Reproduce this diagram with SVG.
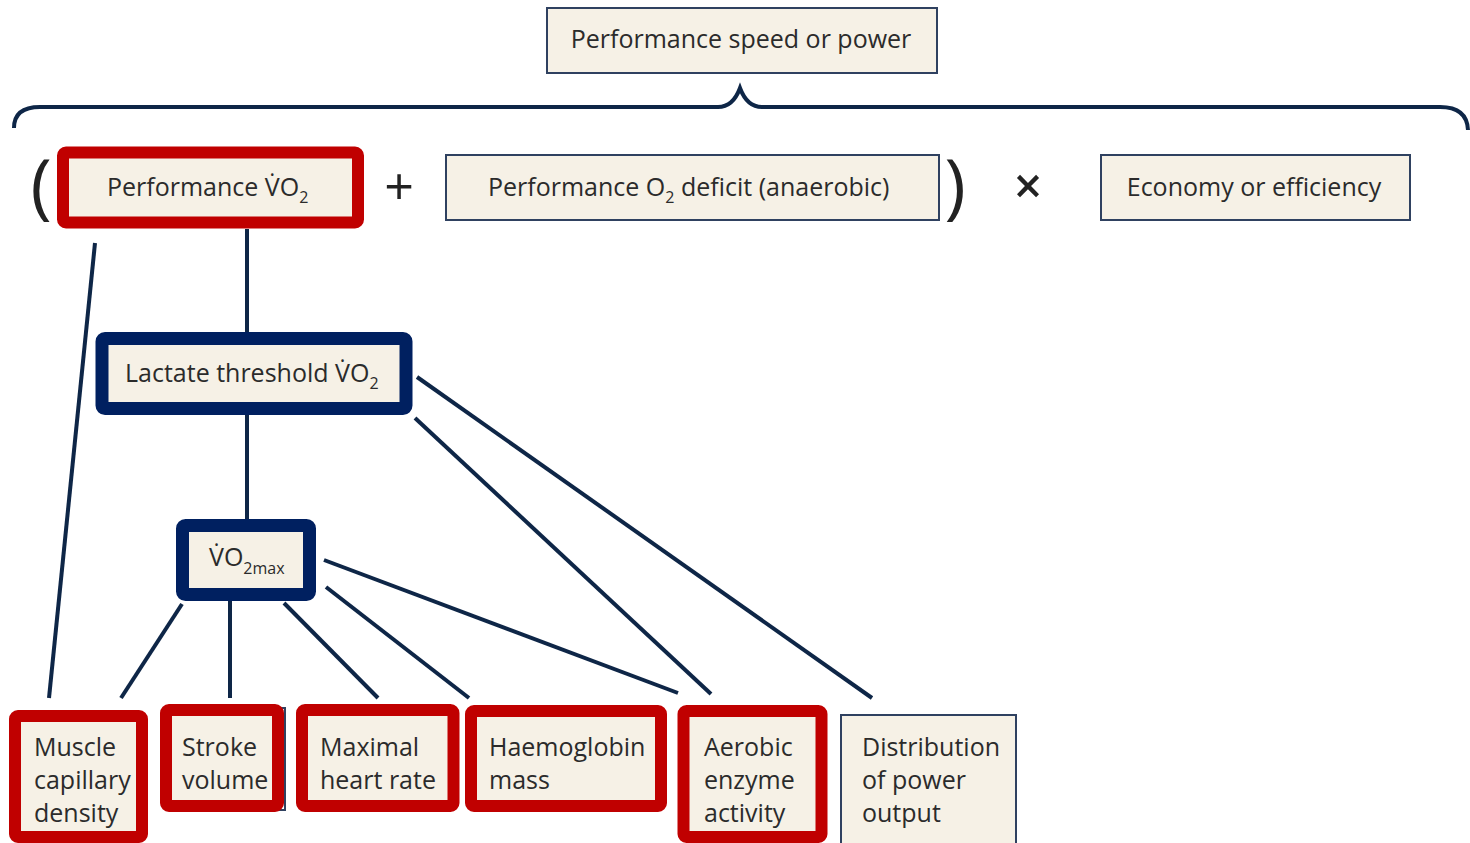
<svg xmlns="http://www.w3.org/2000/svg" width="1470" height="843" viewBox="0 0 1470 843">
<style>
.t{font-family:"Open Sans","Noto Sans","Liberation Sans",sans-serif;font-size:25px;fill:#2b2b2b}
.thin{fill:#f6f1e6;stroke:#2f4160;stroke-width:2}
.red{fill:#f6f1e6;stroke:#c00000;stroke-width:12}
.navy{fill:#f6f1e6;stroke:#002060;stroke-width:13}
.ln{stroke:#0e2647;stroke-width:4;fill:none;stroke-linecap:butt}
.op{font-family:"Open Sans","Liberation Sans",sans-serif;fill:#222222}
</style>
<rect width="1470" height="843" fill="#ffffff"/>
<g id="connectors">
<path class="ln" d="M14,128 Q14,107 40,107 L718,107 Q733,107 740,88 Q747,107 762,107 L1440,107 Q1467,107 1468,130" stroke-width="3"/>
<line class="ln" x1="247" y1="229" x2="247" y2="332"/>
<line class="ln" x1="95" y1="243" x2="49" y2="698"/>
<line class="ln" x1="247" y1="415" x2="247" y2="519"/>
<line class="ln" x1="417" y1="377" x2="872" y2="698"/>
<line class="ln" x1="415" y1="418" x2="711" y2="694"/>
<line class="ln" x1="182" y1="604" x2="121" y2="698"/>
<line class="ln" x1="230" y1="601" x2="230" y2="698"/>
<line class="ln" x1="284" y1="603" x2="378" y2="698"/>
<line class="ln" x1="326" y1="587" x2="469" y2="698"/>
<line class="ln" x1="324" y1="560" x2="678" y2="693"/>
</g>
<g id="n-speed">
<rect class="thin" x="547" y="8" width="390" height="65"/>
<text class="t" x="741" y="48" text-anchor="middle">Performance speed or power</text>
</g>
<g id="n-perf-vo2">
<rect class="red" x="63" y="152.5" width="295" height="70" rx="3"/>
<text class="t" x="107" y="196">Performance V̇O<tspan font-size="16" dy="7">2</tspan></text>
</g>
<g id="operators">
<text class="op" x="41" y="211" font-size="72" font-weight="400" text-anchor="middle">(</text>
<text class="op" x="399" y="205" font-size="52" font-weight="500" text-anchor="middle">+</text>
<text class="op" x="955" y="211" font-size="72" font-weight="400" text-anchor="middle">)</text>
<text class="op" x="1028" y="204" font-size="50" font-weight="600" text-anchor="middle">×</text>
</g>
<g id="n-o2deficit">
<rect class="thin" x="446" y="155" width="493" height="65"/>
<text class="t" x="488" y="196">Performance O<tspan font-size="16" dy="7">2</tspan><tspan dy="-7"> deficit (anaerobic)</tspan></text>
</g>
<g id="n-economy">
<rect class="thin" x="1101" y="155" width="309" height="65"/>
<text class="t" x="1254" y="196" text-anchor="middle">Economy or efficiency</text>
</g>
<g id="n-lactate">
<rect class="navy" x="102" y="338.5" width="304" height="70" rx="3"/>
<text class="t" x="125" y="382">Lactate threshold V̇O<tspan font-size="16" dy="7">2</tspan></text>
</g>
<g id="n-vo2max">
<rect class="navy" x="182.5" y="525.5" width="127" height="69" rx="3"/>
<text class="t" x="209" y="566">V̇O<tspan font-size="16" dy="8">2max</tspan></text>
</g>
<g id="n-muscle">
<rect class="red" x="15" y="716" width="127" height="121" rx="3" stroke-width="11"/>
<text class="t" x="34"><tspan x="34" y="756">Muscle</tspan><tspan x="34" y="789">capillary</tspan><tspan x="34" y="822">density</tspan></text>
</g>
<g id="n-stroke">
<rect x="166" y="708" width="119" height="102" fill="none" stroke="#2f4160" stroke-width="2"/>
<rect class="red" x="166" y="710" width="112" height="96" rx="3" stroke-width="10.5"/>
<text class="t"><tspan x="182" y="756">Stroke</tspan><tspan x="182" y="789">volume</tspan></text>
</g>
<g id="n-maxhr">
<rect class="red" x="302" y="710" width="151.5" height="96" rx="3" stroke-width="10.5"/>
<text class="t"><tspan x="320" y="756">Maximal</tspan><tspan x="320" y="789">heart rate</tspan></text>
</g>
<g id="n-haemo">
<rect class="red" x="471" y="711" width="190" height="95" rx="3" stroke-width="10.5"/>
<text class="t"><tspan x="489" y="756">Haemoglobin</tspan><tspan x="489" y="789">mass</tspan></text>
</g>
<g id="n-aerobic">
<rect class="red" x="683.5" y="711" width="138" height="126" rx="3" stroke-width="10.5"/>
<text class="t"><tspan x="704" y="756">Aerobic</tspan><tspan x="704" y="789">enzyme</tspan><tspan x="704" y="822">activity</tspan></text>
</g>
<g id="n-distribution">
<rect class="thin" x="841" y="715" width="175" height="130"/>
<text class="t"><tspan x="862" y="756">Distribution</tspan><tspan x="862" y="789">of power</tspan><tspan x="862" y="822">output</tspan></text>
</g>
</svg>
